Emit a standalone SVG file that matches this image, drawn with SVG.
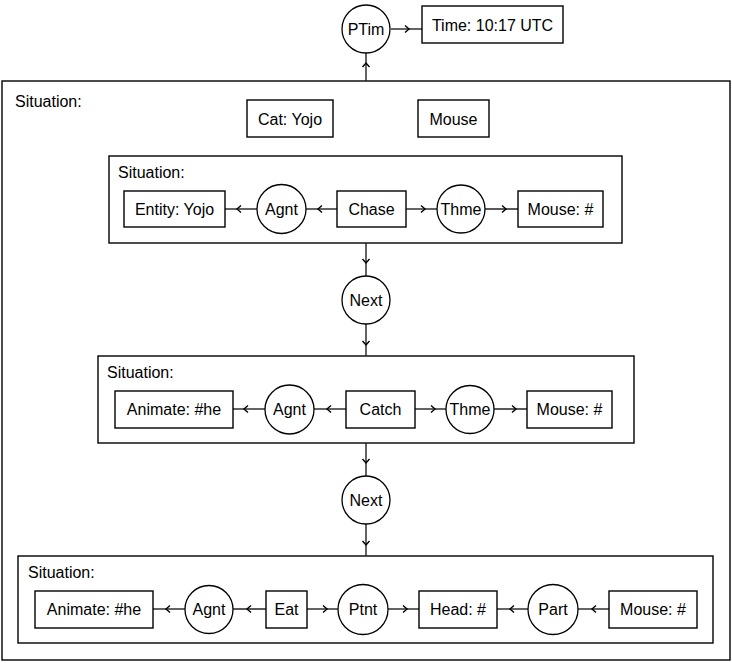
<svg xmlns="http://www.w3.org/2000/svg" width="732" height="663" viewBox="0 0 732 663">
<style>
.b{fill:#fff;stroke:#000;stroke-width:1.4}
.c{fill:#fff;stroke:#000;stroke-width:1.3}
.f{fill:none;stroke:#000;stroke-width:1.4}
text{font-family:"Liberation Sans",Arial,sans-serif;font-size:16px;fill:#000}
.m{text-anchor:middle;dominant-baseline:central}
.ln{fill:none;stroke:#222;stroke-width:1.4;marker-mid:url(#ch)}
</style>
<defs>
<marker id="ch" viewBox="-5 -5 10 10" markerWidth="10" markerHeight="10" markerUnits="userSpaceOnUse" orient="auto" refX="0" refY="0">
<path d="M -3 -3.5 L 1 0 L -3 3.5" fill="none" stroke="#000" stroke-width="1.4"/>
</marker>
</defs>
<rect width="732" height="663" fill="#fff"/>
<g id="outer"><rect class="f" x="2" y="81" width="728" height="579"/><text x="15" y="107">Situation:</text></g>
<g id="sit1"><rect class="f" x="109" y="156" width="513" height="87"/><text x="118" y="178">Situation:</text></g>
<g id="sit2"><rect class="f" x="98" y="356" width="536" height="87"/><text x="107" y="378">Situation:</text></g>
<g id="sit3"><rect class="f" x="18" y="556" width="695" height="87"/><text x="28" y="578">Situation:</text></g>
<g id="connectors">
<path class="ln" d="M 366 81 L 366 64 L 366 53"/>
<path class="ln" d="M 391 29 L 408 29 L 422 29"/>
<path class="ln" d="M 257 209 L 238 209 L 225 209"/>
<path class="ln" d="M 337 209 L 319 209 L 306 209"/>
<path class="ln" d="M 406 209 L 424 209 L 437 209"/>
<path class="ln" d="M 485 209 L 505 209 L 518 209"/>
<path class="ln" d="M 366 243 L 366 262 L 366 276"/>
<path class="ln" d="M 366 324 L 366 344 L 366 356"/>
<path class="ln" d="M 265 409 L 245 409 L 233 409"/>
<path class="ln" d="M 346 409 L 328 409 L 314 409"/>
<path class="ln" d="M 415 409 L 434 409 L 446 409"/>
<path class="ln" d="M 494 409 L 515 409 L 527 409"/>
<path class="ln" d="M 366 443 L 366 462 L 366 476"/>
<path class="ln" d="M 366 524 L 366 544 L 366 556"/>
<path class="ln" d="M 185 609 L 167 609 L 153 609"/>
<path class="ln" d="M 266 609 L 248 609 L 233 609"/>
<path class="ln" d="M 307 609 L 326 609 L 338 609"/>
<path class="ln" d="M 388 609 L 406 609 L 419 609"/>
<path class="ln" d="M 528 609 L 511 609 L 497 609"/>
<path class="ln" d="M 609 609 L 593 609 L 578 609"/>
</g>
<g id="ptim"><circle class="c" cx="366" cy="29" r="24"/><text class="m" x="366" y="29">PTim</text></g>
<g id="time"><rect class="b" x="422" y="6" width="141" height="37"/><text class="m" x="492.5" y="25">Time: 10:17 UTC</text></g>
<g id="cat"><rect class="b" x="247" y="100" width="86" height="37"/><text class="m" x="290" y="119">Cat: Yojo</text></g>
<g id="mouse"><rect class="b" x="418" y="100" width="71" height="37"/><text class="m" x="453.5" y="119">Mouse</text></g>
<g id="entity1"><rect class="b" x="124" y="191" width="101" height="36"/><text class="m" x="174.5" y="209">Entity: Yojo</text></g>
<g id="agnt1"><circle class="c" cx="281.5" cy="209" r="24.5"/><text class="m" x="281.5" y="209">Agnt</text></g>
<g id="chase"><rect class="b" x="337" y="191" width="69" height="36"/><text class="m" x="371.5" y="209">Chase</text></g>
<g id="thme1"><circle class="c" cx="461" cy="209" r="24"/><text class="m" x="461" y="209">Thme</text></g>
<g id="mouse1"><rect class="b" x="518" y="191" width="85" height="36"/><text class="m" x="560.5" y="209">Mouse: #</text></g>
<g id="next1"><circle class="c" cx="366" cy="300" r="24"/><text class="m" x="366" y="300">Next</text></g>
<g id="animate2"><rect class="b" x="115" y="391" width="118" height="37"/><text class="m" x="174" y="409.5">Animate: #he</text></g>
<g id="agnt2"><circle class="c" cx="289.5" cy="409.5" r="24.5"/><text class="m" x="289.5" y="409.5">Agnt</text></g>
<g id="catch"><rect class="b" x="346" y="391" width="69" height="37"/><text class="m" x="380.5" y="409.5">Catch</text></g>
<g id="thme2"><circle class="c" cx="470" cy="409.5" r="24"/><text class="m" x="470" y="409.5">Thme</text></g>
<g id="mouse2"><rect class="b" x="527" y="391" width="85" height="37"/><text class="m" x="569.5" y="409.5">Mouse: #</text></g>
<g id="next2"><circle class="c" cx="366" cy="500" r="24"/><text class="m" x="366" y="500">Next</text></g>
<g id="animate3"><rect class="b" x="35" y="591" width="118" height="37"/><text class="m" x="94" y="609.5">Animate: #he</text></g>
<g id="agnt3"><circle class="c" cx="209" cy="609.5" r="24"/><text class="m" x="209" y="609.5">Agnt</text></g>
<g id="eat"><rect class="b" x="266" y="591" width="41" height="37"/><text class="m" x="286.5" y="609.5">Eat</text></g>
<g id="ptnt"><circle class="c" cx="363" cy="609.5" r="25"/><text class="m" x="363" y="609.5">Ptnt</text></g>
<g id="head"><rect class="b" x="419" y="591" width="78" height="37"/><text class="m" x="458" y="609.5">Head: #</text></g>
<g id="part"><circle class="c" cx="553" cy="609.5" r="25"/><text class="m" x="553" y="609.5">Part</text></g>
<g id="mouse3"><rect class="b" x="609" y="591" width="88" height="37"/><text class="m" x="653" y="609.5">Mouse: #</text></g>
</svg>
